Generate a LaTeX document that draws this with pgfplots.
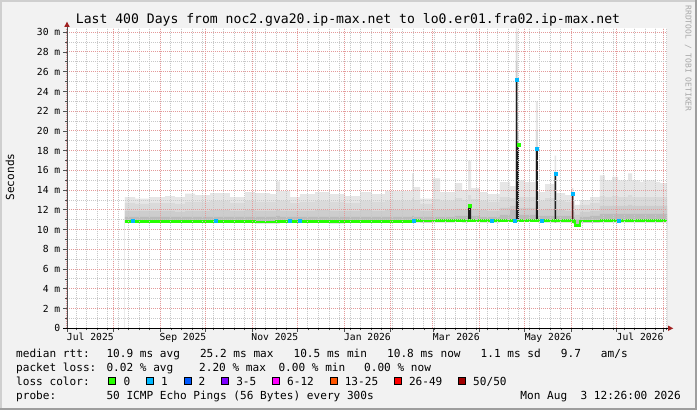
\documentclass[border=0pt]{standalone}
\usepackage{fontspec}
\setmainfont{DejaVu Sans Mono}
\usepackage{pgfplots}
\usepackage{pgfplotstable}
\pgfplotsset{compat=1.18}

\definecolor{bg}{HTML}{F2F2F2}
\definecolor{shadea}{HTML}{CFCFCF}
\definecolor{shadeb}{HTML}{9E9E9E}
\definecolor{mgrid}{HTML}{E49A9A}
\definecolor{mingrid}{HTML}{C8C8C8}
\definecolor{arrowred}{HTML}{A02020}
\definecolor{axisgray}{HTML}{505050}
\definecolor{wm}{HTML}{A8A8A8}
\definecolor{sm1}{HTML}{E6E6E6}
\definecolor{sm2}{HTML}{DADADA}
\definecolor{sm3}{HTML}{CDCDCD}
\definecolor{sm4}{HTML}{BBBBBB}
\definecolor{dark}{HTML}{1E1E1E}
\definecolor{darkred}{HTML}{4A1A1A}
\definecolor{l0}{HTML}{26FF00}
\definecolor{l1}{HTML}{00B8FF}
\definecolor{l2}{HTML}{0059FF}
\definecolor{l3}{HTML}{7E00FF}
\definecolor{l6}{HTML}{FF00FF}
\definecolor{l13}{HTML}{FF5500}
\definecolor{l26}{HTML}{FF0000}
\definecolor{l50}{HTML}{A10000}

% days since 1 Jul 2025; smoke bands, spikes, median, min
\pgfplotstableread{
x     hi    s3    s2    s1    dk    dkr   med   lo
38.5  13.30 12.70 11.90 11.30 0     0     10.86 10.70
45.2  13.15 12.60 11.90 11.30 0     0     10.85 10.70
55.1  13.30 12.70 11.90 11.30 0     0     10.86 10.70
65.1  13.40 12.70 11.90 11.30 0     0     10.84 10.68
71.7  13.30 12.60 11.80 11.30 0     0     10.82 10.66
78.4  13.65 12.80 11.90 11.30 0     0     10.82 10.66
85.0  13.50 12.80 11.90 11.30 0     0     10.84 10.68
95.0  13.70 12.90 12.00 11.30 0     0     10.86 10.70
108.2 13.30 12.70 11.90 11.30 0     0     10.84 10.68
118.2 13.80 12.90 12.00 11.30 0     0     10.82 10.66
124.8 13.70 12.80 11.90 11.30 0     0     10.78 10.62
134.8 13.60 12.80 11.90 11.30 0     0     10.78 10.62
138.8 14.90 13.00 12.00 11.40 0     0     10.80 10.64
141.4 13.90 12.90 11.90 11.30 0     0     10.82 10.66
148.1 13.30 12.70 11.90 11.30 0     0     10.84 10.68
154.7 13.60 12.80 11.90 11.30 0     0     10.84 10.68
164.7 13.80 12.90 12.00 11.30 0     0     10.82 10.66
174.6 13.60 12.80 11.90 11.30 0     0     10.80 10.64
184.6 13.40 12.70 11.90 11.30 0     0     10.82 10.66
194.6 13.80 12.90 12.00 11.30 0     0     10.84 10.68
202.5 13.60 12.80 11.90 11.30 0     0     10.82 10.66
211.2 13.90 12.90 12.00 11.30 0     0     10.82 10.66
217.8 13.90 12.90 12.00 11.30 0     0     10.84 10.68
224.4 13.90 12.90 12.00 11.30 0     0     10.86 10.70
229.1 15.70 13.20 12.10 11.40 0     0     10.88 10.72
230.4 14.30 13.00 12.00 11.30 0     0     10.90 10.74
234.4 13.15 12.60 11.90 11.30 0     0     10.88 10.72
243.0 15.20 13.10 12.00 11.30 0     0     10.90 10.74
247.7 13.80 12.90 12.00 11.30 0     0     10.90 10.74
257.6 14.70 13.20 12.10 11.40 0     0     10.92 10.76
262.3 14.00 13.00 12.00 11.40 0     0     10.90 10.74
266.3 17.00 13.50 12.40 12.40 12.40 0     10.92 10.76
268.3 14.20 13.10 12.10 11.40 0     0     10.92 10.76
274.2 13.80 12.90 12.00 11.30 0     0     10.90 10.74
278.9 13.60 12.80 11.90 11.30 0     0     10.90 10.74
287.5 14.80 13.30 12.20 11.50 0     0     10.92 10.76
294.2 14.40 13.20 12.40 12.00 0     0     10.95 10.78
298.1 32.00 30.00 27.00 25.20 25.20 0     10.95 10.78
299.1 20.00 19.00 18.60 18.60 18.60 0     10.95 10.78
300.1 15.00 13.30 12.20 11.50 0     0     10.92 10.76
304.1 14.80 13.30 12.20 11.50 0     0     10.92 10.76
311.4 23.00 20.00 18.20 18.20 18.20 0     10.92 10.76
312.7 13.80 12.90 12.00 11.40 0     0     10.90 10.74
317.4 14.60 13.20 12.10 11.40 0     0     10.90 10.74
323.7 17.50 16.00 15.70 15.70 15.70 0     10.90 10.74
324.7 13.70 12.90 12.00 11.40 0     0     10.90 10.74
330.7 13.50 12.80 11.90 11.40 0     0     10.90 10.74
335.3 14.20 13.60 13.60 13.60 0     13.60 10.90 10.74
336.3 13.00 12.40 11.80 11.30 0     0     10.80 10.60
337.3 12.50 12.00 11.50 11.00 0     0     10.45 10.30
340.6 13.00 12.50 11.80 11.30 0     0     10.88 10.72
347.3 13.30 12.70 11.90 11.40 0     0     10.88 10.72
353.9 15.50 13.40 12.40 11.60 0     0     10.90 10.74
357.2 15.00 13.30 12.40 11.60 0     0     10.90 10.74
361.9 15.35 13.40 12.40 11.60 0     0     10.90 10.74
365.9 15.00 13.30 12.40 11.60 0     0     10.90 10.74
372.5 15.70 13.50 12.50 11.60 0     0     10.90 10.74
375.2 15.00 13.30 12.40 11.60 0     0     10.90 10.74
380.5 14.85 13.30 12.40 11.60 0     0     10.90 10.74
382.5 15.00 13.30 12.40 11.60 0     0     10.90 10.74
390.4 14.85 13.30 12.40 11.60 0     0     10.90 10.74
393.8 14.70 13.30 12.40 11.60 0     0     10.90 10.74
398.4 14.70 13.30 12.40 11.60 0     0     10.90 10.74
}\smoke

\begin{document}
\begin{tikzpicture}
\path[use as bounding box] (-67bp,-81.7bp) rectangle (630bp,328.3bp);
\fill[shadeb] (-67bp,-81.7bp) rectangle (630bp,328.3bp);
\fill[shadea] (-67bp,-79.7bp) rectangle (628bp,328.3bp);
\fill[bg] (-65bp,-79.7bp) rectangle (628bp,326.3bp);
\fill[white] (0bp,0bp) rectangle (600bp,300bp);

\begin{axis}[
  at={(0,0)}, anchor=south west,
  width=600bp, height=300bp, scale only axis,
  xmin=0, xmax=398.4, ymin=0, ymax=30.4,
  axis x line*=bottom, axis y line*=left,
  axis line style={draw=none},
  axis on top,
  tick align=outside,
  major tick length=3.5bp, minor tick length=2bp,
  tick style={axisgray, line width=0.8bp},
  xtick={0,31,62,92,123,153,184,215,243,274,304,335,365,396},
  xticklabels={,,,,,,,,,,,,,,},
  minor xtick={6,13,...,398},
  extra x ticks={15.5,77,138,199.5,258.5,319.5,380.5},
  extra x tick labels={Jul 2025,Sep 2025,Nov 2025,Jan 2026,Mar 2026,May 2026,Jul 2026},
  extra x tick style={grid=none, major tick length=0pt},
  ytick={0,2,...,30},
  yticklabels={0,2 m,4 m,6 m,8 m,10 m,12 m,14 m,16 m,18 m,20 m,22 m,24 m,26 m,28 m,30 m},
  minor ytick={1,3,...,29},
  grid=both,
  major grid style={mgrid, line width=1bp, dash pattern=on 1bp off 1bp},
  minor grid style={mingrid, line width=1bp, dash pattern=on 1bp off 1bp},
  ticklabel style={font=\fontsize{9.7bp}{11bp}\selectfont, inner sep=0pt},
  xticklabel style={anchor=north, yshift=-5bp},
  yticklabel style={anchor=east, xshift=-3bp},
]
\addplot[const plot, draw=none, fill=sm1] table[x=x, y=hi] {\smoke} \closedcycle;
\addplot[const plot, draw=none, fill=sm2] table[x=x, y=s3] {\smoke} \closedcycle;
\addplot[const plot, draw=none, fill=sm3] table[x=x, y=s2] {\smoke} \closedcycle;
\addplot[const plot, draw=none, fill=sm4] table[x=x, y=s1] {\smoke} \closedcycle;
\addplot[const plot, draw=none, fill=dark] table[x=x, y=dk] {\smoke} \closedcycle;
\addplot[const plot, draw=none, fill=darkred] table[x=x, y=dkr] {\smoke} \closedcycle;
\addplot[const plot, draw=none, fill=white] table[x=x, y=lo] {\smoke} \closedcycle;
\addplot[const plot, l0, line width=2.8bp] table[x=x, y=med] {\smoke};
% median points with one lost ping
\addplot[only marks, mark=square*, mark size=1.5bp, l1, mark options={draw=none, fill=l1}] coordinates {
  (43.4,10.9) (98.6,10.9) (148.1,10.9) (154.2,10.9) (229.9,10.9)
  (282.0,10.9) (297.5,10.95) (315.2,10.9) (366.1,10.9)
  (298.6,25.2) (312.0,18.2) (324.2,15.7) (335.8,13.6)
};
\addplot[only marks, mark=square*, mark size=1.5bp, l0, mark options={draw=none, fill=l0}] coordinates {
  (267.3,12.4) (299.6,18.6)
};
\end{axis}

% axes and arrows
\draw[axisgray, line width=1bp] (0bp,-3.4bp) -- (0bp,302bp);
\fill[arrowred] (0bp,306.6bp) -- (-2.7bp,301.5bp) -- (2.7bp,301.5bp) -- cycle;
\draw[black, line width=1bp] (-3.7bp,0bp) -- (601bp,0bp);
\fill[arrowred] (606.3bp,0bp) -- (601bp,2.7bp) -- (601bp,-2.7bp) -- cycle;

% title, axis label, watermark
\node[anchor=base, inner sep=0pt, font=\fontsize{13.1bp}{15bp}\selectfont] at (281bp,304.3bp)
  {Last 400 Days from noc2.gva20.ip-max.net to lo0.er01.fra02.ip-max.net};
\node[rotate=90, inner sep=0pt, font=\fontsize{11.1bp}{13bp}\selectfont] at (-57bp,151.3bp) {Seconds};
\node[rotate=-90, inner sep=0pt, text=wm, font=\fontsize{8bp}{9bp}\selectfont] at (621.3bp,269.8bp)
  {RRDTOOL / TOBI OETIKER};

% legend
\begin{scope}[every node/.style={anchor=base west, inner sep=0pt, font=\fontsize{11.1bp}{13bp}\selectfont}]
\node at (-51bp,-29.4bp) {median rtt:};
\node at (39.3bp,-29.4bp) {10.9~ms~avg~~~25.2~ms~max~~~10.5~ms~min~~~10.8~ms~now~~~1.1~ms~sd~~~9.7~~~am/s};
\node at (-51bp,-43.4bp) {packet loss:};
\node at (39.3bp,-43.4bp) {0.02~\%~avg};
\node at (132bp,-43.4bp) {2.20~\%~max};
\node at (211.3bp,-43.4bp) {0.00~\%~min};
\node at (297bp,-43.4bp) {0.00~\%~now};
\node at (-51bp,-57bp) {loss color:};
\node at (-51bp,-71bp) {probe:};
\node at (39.3bp,-71bp) {50 ICMP Echo Pings (56 Bytes) every 300s};
\node[anchor=base east] at (614bp,-71bp) {Mon Aug~~3 12:26:00 2026};
\end{scope}
% loss colour boxes
\foreach \bx/\col/\lab in {108.3/l0/0, 145.9/l1/1, 183.5/l2/2, 221.1/l3/3-5, 272.0/l6/6-12,
                           329.6/l13/13-25, 393.8/l26/26-49, 458.0/l50/{50/50}} {
  \filldraw[fill=\col, draw=black, line width=1bp] (\bx bp-66.5bp,-56.5bp) rectangle ++(7bp,7bp);
  \node[anchor=base west, inner sep=0pt, font=\fontsize{11.1bp}{13bp}\selectfont] at (\bx bp-52bp,-57bp) {\lab};
}
\end{tikzpicture}
\end{document}
